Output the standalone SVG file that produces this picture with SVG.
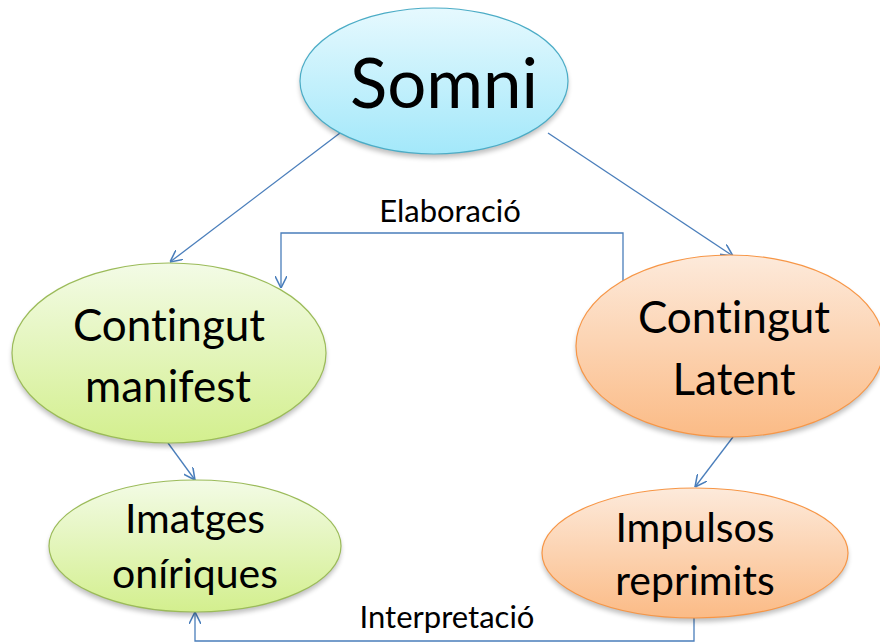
<svg xmlns="http://www.w3.org/2000/svg" width="880" height="643" viewBox="0 0 880 643">
<style>
.t{font-family:Lato,"Open Sans","Liberation Sans",sans-serif;fill:#000;text-anchor:middle;font-variant-ligatures:none;font-feature-settings:"liga" 0}
.c{fill:none;stroke:#4a7ebb;stroke-width:1.3}
.blue{stroke:#4bacc6;stroke-width:1.2}
.green{stroke:#9bbb59;stroke-width:1.2}
.orange{stroke:#f79646;stroke-width:1.2}
.sh{fill:#000;opacity:0.25;filter:url(#blur)}
</style>
<defs>
<linearGradient id="gb" x1="0" y1="0" x2="0" y2="1"><stop offset="0" stop-color="#e6f9fe"/><stop offset="1" stop-color="#a3e8fa"/></linearGradient>
<linearGradient id="gg" x1="0" y1="0" x2="0" y2="1"><stop offset="0" stop-color="#f3fbe6"/><stop offset="1" stop-color="#d3ef8e"/></linearGradient>
<linearGradient id="go" x1="0" y1="0" x2="0" y2="1"><stop offset="0" stop-color="#fdeadb"/><stop offset="1" stop-color="#fbbb86"/></linearGradient>
<filter id="blur" x="-10%" y="-10%" width="120%" height="130%"><feGaussianBlur stdDeviation="2.5"/></filter>
<marker id="a" viewBox="0 0 10 10" refX="10" refY="5" markerWidth="12" markerHeight="12" markerUnits="userSpaceOnUse" orient="auto"><path d="M0,0 L10,5 L0,10" fill="none" stroke="#4a7ebb" stroke-width="1.3"/></marker>
</defs>
<g id="connectors">
<line class="c" x1="340" y1="133" x2="170" y2="262" marker-end="url(#a)"/>
<line class="c" x1="548" y1="133" x2="733" y2="256" marker-end="url(#a)"/>
<polyline class="c" points="623,282 623,233 281,233 281,288" marker-end="url(#a)"/>
<line class="c" x1="168" y1="443" x2="195" y2="480" marker-end="url(#a)"/>
<line class="c" x1="733" y1="437" x2="695" y2="487" marker-end="url(#a)"/>
<polyline class="c" points="694,618 694,641 195,641 195,612" marker-end="url(#a)"/>
<text class="t" x="450" y="222" font-size="31">Elaboració</text>
<text class="t" x="447" y="628" font-size="31">Interpretació</text>
</g>
<g id="somni">
<ellipse class="sh" cx="434" cy="85" rx="134" ry="73"/>
<ellipse class="blue" cx="434" cy="81" rx="134" ry="73" fill="url(#gb)"/>
<text class="t" x="444" y="108" font-size="69">Somni</text>
</g>
<g id="manifest">
<ellipse class="sh" cx="169" cy="357" rx="157" ry="90"/>
<ellipse class="green" cx="169" cy="353" rx="157" ry="90" fill="url(#gg)"/>
<text class="t" x="169" y="341" font-size="44">Contingut</text>
<text class="t" x="168" y="402" font-size="44">manifest</text>
</g>
<g id="latent">
<ellipse class="sh" cx="730" cy="350" rx="154" ry="91"/>
<ellipse class="orange" cx="730" cy="346" rx="154" ry="91" fill="url(#go)"/>
<text class="t" x="734" y="333" font-size="44">Contingut</text>
<text class="t" x="734" y="395" font-size="44">Latent</text>
</g>
<g id="imatges">
<ellipse class="sh" cx="195" cy="550" rx="146" ry="66"/>
<ellipse class="green" cx="195" cy="546" rx="146" ry="66" fill="url(#gg)"/>
<text class="t" x="195" y="533" font-size="41">Imatges</text>
<text class="t" x="195" y="588" font-size="41">oníriques</text>
</g>
<g id="impulsos">
<ellipse class="sh" cx="695" cy="557" rx="153" ry="65"/>
<ellipse class="orange" cx="695" cy="553" rx="153" ry="65" fill="url(#go)"/>
<text class="t" x="695" y="542" font-size="41">Impulsos</text>
<text class="t" x="695" y="595" font-size="41">reprimits</text>
</g>
</svg>
